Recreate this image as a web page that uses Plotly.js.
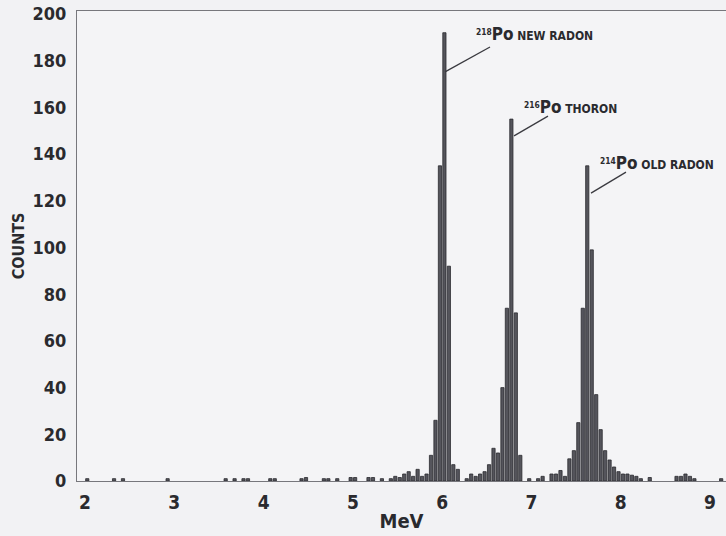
<!DOCTYPE html>
<html>
<head>
<meta charset="utf-8">
<script src="https://cdn.plot.ly/plotly-3.0.1.min.js"></script>
<style>
html,body{margin:0;padding:0;background:#f2f2f4;}
#chart{width:726px;height:536px;}
</style>
</head>
<body>
<div id="chart"></div>
<script>
// Bin centres (MeV) of the non-empty channels and their counts
const energies = [
  2.025, 2.325, 2.425, 2.925, 3.575, 3.675, 3.775, 3.825, 4.075, 4.125,
  4.425, 4.475, 4.675, 4.725, 4.825, 4.975, 5.025, 5.175, 5.225, 5.325,
  5.425, 5.475, 5.525, 5.575, 5.625, 5.675, 5.725, 5.775, 5.825, 5.875,
  5.925, 5.975, 6.025, 6.075, 6.125, 6.175, 6.275, 6.325, 6.375, 6.425,
  6.475, 6.525, 6.575, 6.625, 6.675, 6.725, 6.775, 6.825, 6.875, 6.975,
  7.075, 7.125, 7.225, 7.275, 7.325, 7.375, 7.425, 7.475, 7.525, 7.575,
  7.625, 7.675, 7.725, 7.775, 7.825, 7.875, 7.925, 7.975, 8.025, 8.075,
  8.125, 8.175, 8.225, 8.325, 8.625, 8.675, 8.725, 8.775, 8.825, 9.125
];
const counts = [
  1, 1, 1, 1, 1, 1, 1, 1, 1, 1,
  1, 1.5, 1, 1, 1, 1.5, 1.5, 1.5, 1.5, 1,
  1, 2, 1.5, 3, 4, 2, 5, 2, 3, 11,
  26, 135, 192, 92, 7, 5, 1, 3, 2, 3,
  4, 7, 14, 12, 40, 74, 155, 72, 11, 1,
  1, 2, 3, 3, 4.5, 2, 9.5, 13, 25, 74,
  135, 99, 37, 22, 13, 9, 6, 4, 3, 3,
  2.5, 2, 1, 1.5, 2, 2, 3, 2, 1, 1
];
const xTicks = [2, 3, 4, 5, 6, 7, 8, 9];
const yTicks = [0, 20, 40, 60, 80, 100, 120, 140, 160, 180, 200];
const peakLabels = [
  {iso: '218', name: 'NEW RADON', tx: 6.357, ty: 191.4, x0: 6.032, y0: 175.2, x1: 6.536, y1: 185.9},
  {iso: '216', name: 'THORON',    tx: 6.894, ty: 160.2, x0: 6.805, y0: 147.8, x1: 7.185, y1: 156.3},
  {iso: '214', name: 'OLD RADON', tx: 7.745, ty: 136.2, x0: 7.667, y0: 123.3, x1: 8.059, y1: 132.3}
];

const FONT = '"Liberation Sans Narrow", "DejaVu Sans Condensed", "Arial Narrow", sans-serif';
const INK = '#2a2a2e';

const trace = {
  type: 'bar',
  x: energies,
  y: counts,
  width: 0.036,
  marker: {color: '#55555c', line: {color: '#2a2a2e', width: 0.8}},
  hoverinfo: 'x+y'
};

const annotations = peakLabels.map(p => ({
  x: p.tx, y: p.ty, xref: 'x', yref: 'y',
  xanchor: 'left', yanchor: 'middle', showarrow: false,
  text: '<b><sup>' + p.iso + '</sup><span style="font-size:17px">Po</span> ' + p.name + '</b>',
  font: {family: FONT, size: 12, color: INK}
}));
const shapes = peakLabels.map(p => ({
  type: 'line', xref: 'x', yref: 'y',
  x0: p.x0, y0: p.y0, x1: p.x1, y1: p.y1,
  line: {color: '#3a3a40', width: 1.3}
}));

const layout = {
  width: 726, height: 536,
  margin: {l: 77, r: 0, t: 11, b: 55},
  paper_bgcolor: '#f2f2f4',
  plot_bgcolor: '#f4f4f6',
  showlegend: false,
  bargap: 0,
  font: {family: FONT, color: INK},
  xaxis: {
    range: [1.91, 9.179],
    tickvals: xTicks,
    ticktext: xTicks.map(String),
    ticks: '', showgrid: false, zeroline: false,
    showline: true, linecolor: '#77777c', linewidth: 1, mirror: true,
    tickfont: {family: FONT, size: 19, color: INK, weight: 'bold'},
    ticklabelstandoff: 4,
    title: {text: '<b>MeV</b>', font: {family: FONT, size: 20, color: INK}, standoff: 2}
  },
  yaxis: {
    range: [0, 201.3],
    tickvals: yTicks,
    ticktext: yTicks.map(String),
    ticks: '', showgrid: false, zeroline: false,
    showline: true, linecolor: '#77777c', linewidth: 1,
    tickfont: {family: FONT, size: 18, color: INK, weight: 'bold'},
    ticklabelstandoff: 6,
    title: {text: '<b>COUNTS</b>', font: {family: FONT, size: 16, color: INK}, standoff: 3}
  },
  annotations: annotations,
  shapes: shapes
};

Plotly.newPlot('chart', [trace], layout, {displayModeBar: false, staticPlot: true});
</script>
</body>
</html>
